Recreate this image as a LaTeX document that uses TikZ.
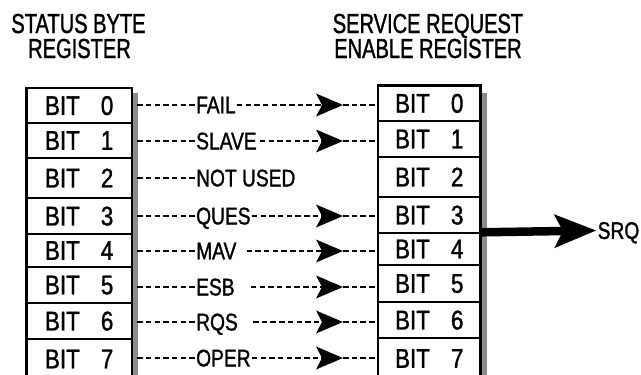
\documentclass[tikz,border=0pt]{standalone}
\usepackage{fontspec}
\setmainfont{Liberation Sans}
\newfontfamily\titlefont{Liberation Sans}[FakeStretch=0.73,FakeBold=1.2]
\newfontfamily\bitfont{Liberation Sans}[FakeStretch=0.83,FakeBold=1.2]
\newfontfamily\labfont{Liberation Sans}[FakeStretch=0.8,FakeBold=1.2]
\usetikzlibrary{arrows.meta}
\begin{document}
\begin{tikzpicture}[x=1pt,y=-1pt,
  cellL/.style={draw, line width=2.6pt, minimum width=105.3pt, inner sep=0pt, text depth=0pt,
    font=\bitfont\fontsize{27}{27}\selectfont},
  cellR/.style={cellL, minimum width=102.5pt},
  shadowbar/.style={fill=black!45, draw=none},
  ttl/.style={anchor=base, inner sep=0pt, text depth=0pt, font=\titlefont\fontsize{27.5}{27.5}\selectfont},
  lab/.style={anchor=west, inner sep=1pt, text depth=0pt, font=\labfont\fontsize{24}{24}\selectfont},
  dl/.style={line width=1.1pt, dash pattern=on 5.5pt off 3.2pt},
  tipa/.style={-{Stealth[length=27pt,width=23pt,inset=6pt,line width=0pt]}},
  srqarrow/.style={line width=8.5pt, -{Stealth[length=42pt,width=34pt,inset=9pt,line width=0pt]}}
]
\useasboundingbox (0,0) rectangle (641,375);
\clip (0,0) rectangle (641,375);

% titles
\node[ttl] (t1a) at (78.5,33) {STATUS BYTE};
\node[ttl] (t1b) at (79.5,58) {REGISTER};
\node[ttl] (t2a) at (428,33) {SERVICE REQUEST};
\node[ttl] (t2b) at (428,58) {ENABLE REGISTER};

% shadows
\fill[shadowbar] (132.5,93) rectangle (137.5,380);
\fill[shadowbar] (481.5,93) rectangle (486.5,380);

% left register cells
\node[cellL, minimum height=35pt] (L0) at (79.15,105.5) {BIT\hspace{21pt}0};
\node[cellL, minimum height=35pt] (L1) at (79.15,140.5) {BIT\hspace{21pt}1};
\node[cellL, minimum height=40pt] (L2) at (79.15,178) {BIT\hspace{21pt}2};
\node[cellL, minimum height=36pt] (L3) at (79.15,216) {BIT\hspace{21pt}3};
\node[cellL, minimum height=33pt] (L4) at (79.15,250.5) {BIT\hspace{21pt}4};
\node[cellL, minimum height=36pt] (L5) at (79.15,285) {BIT\hspace{21pt}5};
\node[cellL, minimum height=36pt] (L6) at (79.15,321) {BIT\hspace{21pt}6};
\node[cellL, minimum height=40pt] (L7) at (79.15,359) {BIT\hspace{21pt}7};

% right register cells
\node[cellR, minimum height=35.5pt] (R0) at (429.25,103.25) {BIT\hspace{21pt}0};
\node[cellR, minimum height=36pt] (R1) at (429.25,139) {BIT\hspace{21pt}1};
\node[cellR, minimum height=40pt] (R2) at (429.25,177) {BIT\hspace{21pt}2};
\node[cellR, minimum height=36pt] (R3) at (429.25,215) {BIT\hspace{21pt}3};
\node[cellR, minimum height=32pt] (R4) at (429.25,249) {BIT\hspace{21pt}4};
\node[cellR, minimum height=37pt] (R5) at (429.25,283.5) {BIT\hspace{21pt}5};
\node[cellR, minimum height=36pt] (R6) at (429.25,320) {BIT\hspace{21pt}6};
\node[cellR, minimum height=41pt] (R7) at (429.25,358.5) {BIT\hspace{21pt}7};

% labels
\node[lab] (lab0) at (195,105) {FAIL};
\node[lab] (lab1) at (195,141) {SLAVE};
\node[lab] (lab2) at (195,178) {NOT USED};
\node[lab] (lab3) at (195,216) {QUES};
\node[lab] (lab4) at (195,251) {MAV};
\node[lab] (lab5) at (195,287) {ESB};
\node[lab] (lab6) at (195,322) {RQS};
\node[lab] (lab7) at (195,358) {OPER};

% arrow tips
\coordinate (a0) at (343,105);
\coordinate (a1) at (343,141);
\coordinate (a3) at (343,216);
\coordinate (a4) at (343,251);
\coordinate (a5) at (343,287);
\coordinate (a6) at (343,322);
\coordinate (a7) at (343,358);

% left dashed connectors
\foreach \i in {0,...,7}{
  \draw[dl, shorten <=4pt] (L\i.east |- lab\i.west) -- (lab\i.west);
}
% after labels
\draw[dl, tipa] (lab0.east) -- (a0);
\draw[dl, tipa] ([xshift=2pt]lab1.east) -- (a1);
\draw[dl, tipa] (lab3.east) -- (a3);
\draw[dl, tipa] ([xshift=9pt]lab4.east) -- (a4);
\draw[dl, tipa] ([xshift=15pt]lab5.east) -- (a5);
\draw[dl, tipa] ([xshift=14pt]lab6.east) -- (a6);
\draw[dl, tipa] (lab7.east) -- (a7);
% to right register
\foreach \i in {0,1,3,4,5,6,7}{
  \draw[dl] (a\i) -- (a\i -| R\i.west);
}

% SRQ
\node[lab, inner sep=1.5pt] (srq) at (596,230.5) {SRQ};
\draw[srqarrow] ([yshift=2pt]R3.south east) -- (srq.west);
\end{tikzpicture}
\end{document}
